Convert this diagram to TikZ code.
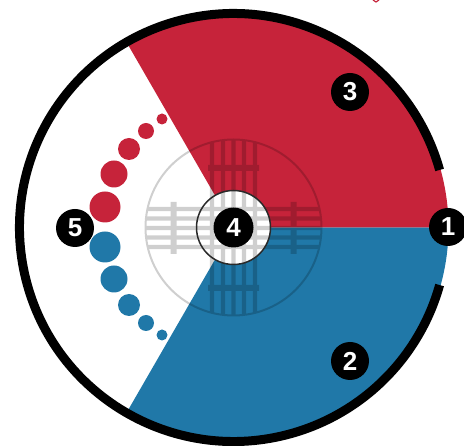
\documentclass[tikz,border=0pt]{standalone}
\usepackage{fontspec}
\setmainfont{Liberation Sans}
\definecolor{redsec}{HTML}{C6233A}
\definecolor{bluesec}{HTML}{2078A8}
\definecolor{ringdark}{HTML}{2A2A2A}
\tikzset{
  badge/.style={circle,fill=black,text=white,minimum size=38pt,inner sep=0pt,font=\fontsize{26}{26}\selectfont\bfseries},
  reddot/.style={circle,fill=redsec,inner sep=0pt},
  bluedot/.style={circle,fill=bluesec,inner sep=0pt},
  gridline/.style={draw=black,line width=4.4pt},
  gridring/.style={draw=black,line width=2pt},
  outerring/.style={draw=black,line width=9pt}
}
\begin{document}
\begin{tikzpicture}[x=1pt,y=-1pt]
\useasboundingbox (0,0) rectangle (464,446);
\coordinate (c) at (233.5,227.5);
% sectors (y axis points down, so angles run clockwise on the page)
\fill[bluesec] (c) -- ++(215,0) arc[start angle=0,end angle=-120,radius=215pt] -- cycle;
\fill[redsec] (c) -- ++(215,0) arc[start angle=0,end angle=120,radius=215pt] -- cycle;
% outer ring
\draw[outerring] (c) ++(-15.6:214) arc[start angle=15.6,end angle=344.4,radius=214pt];
% hub
\fill[white] (c) circle[radius=37pt];
% grid
\begin{scope}[transparency group,opacity=.19]
\draw[gridring] (c) circle[radius=88pt];
\draw[gridline]
  (148,209) -- (319,209) (146,218.5) -- (321,218.5) (145.5,228) -- (321.5,228) (146,237.5) -- (321,237.5) (148,247) -- (319,247)
  (212,142) -- (212,313) (223,140.5) -- (223,314.5) (233.5,140) -- (233.5,315) (244,140.5) -- (244,314.5) (255,142) -- (255,313);
\draw[draw=black,line width=6pt]
  (208,168) -- (259,168) (208,288) -- (259,288)
  (173.5,202) -- (173.5,254) (293.5,202) -- (293.5,254);
\end{scope}
\draw[ringdark,line width=1.5pt] (c) circle[radius=37pt];
% dots
\node[reddot,minimum size=31pt] (r1) at (105,207) {};
\node[reddot,minimum size=27pt] (r2) at (114,174) {};
\node[reddot,minimum size=22pt] (r3) at (129,149) {};
\node[reddot,minimum size=16pt] (r4) at (146,131) {};
\node[reddot,minimum size=11pt] (r5) at (162,119) {};
\node[bluedot,minimum size=31pt] (b1) at (105,247) {};
\node[bluedot,minimum size=27pt] (b2) at (114,279) {};
\node[bluedot,minimum size=22pt] (b3) at (129,305) {};
\node[bluedot,minimum size=16pt] (b4) at (146,323) {};
\node[bluedot,minimum size=11pt] (b5) at (162,335) {};
% badges
\node[badge] (n1) at (448,227) {1};
\node[badge] (n2) at (350,361) {2};
\node[badge] (n3) at (350,92) {3};
\node[badge,minimum size=40pt] (n4) at (c) {4};
\node[badge] (n5) at (75,228) {5};
% stray mark at the top edge
\draw[redsec,line width=1.2pt] (373,0) -- (376,2) -- (379,0);
\end{tikzpicture}
\end{document}
